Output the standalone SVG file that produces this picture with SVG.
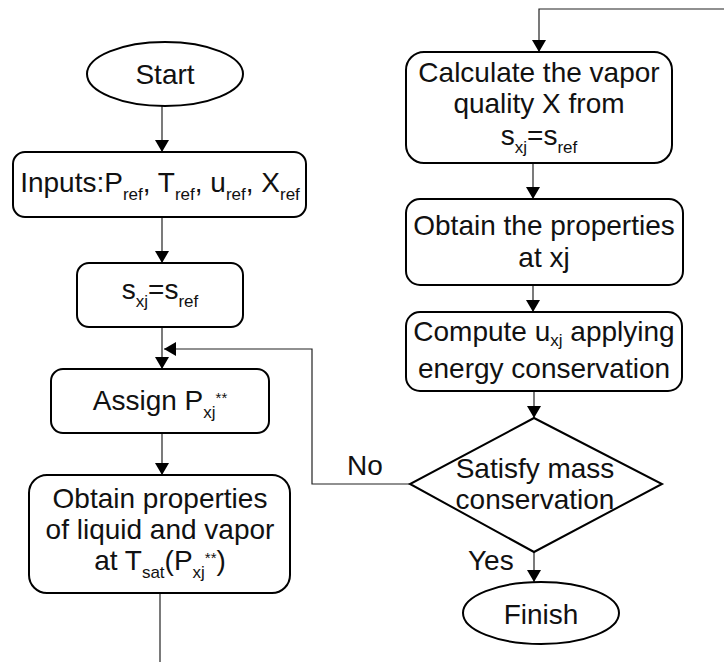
<svg xmlns="http://www.w3.org/2000/svg" width="724" height="662" viewBox="0 0 724 662">
  <style>
    .box { fill: #ffffff; stroke: #000000; stroke-width: 2; }
    .link { fill: none; stroke: #222222; stroke-width: 1.2; }
    .t { font-family: "Liberation Sans", Arial, sans-serif; font-size: 28px; fill: #111111; text-anchor: middle; }
    .lbl { font-family: "Liberation Sans", Arial, sans-serif; font-size: 28px; fill: #111111; }
    .sub { font-size: 17px; }
    .sup { font-size: 15px; }
  </style>
  <defs>
    <marker id="arrow" markerUnits="userSpaceOnUse" markerWidth="14" markerHeight="14" refX="12" refY="7" orient="auto">
      <path d="M0,0 L12,7 L0,14 Z" fill="#000000"/>
    </marker>
  </defs>

  <!-- connectors -->
  <g id="connectors">
    <path class="link" d="M162,106 V152" marker-end="url(#arrow)"/>
    <path class="link" d="M162,217 V263" marker-end="url(#arrow)"/>
    <path class="link" d="M162,327 V369" marker-end="url(#arrow)"/>
    <path class="link" d="M162,433 V475" marker-end="url(#arrow)"/>
    <path class="link" d="M160,593 V662"/>
    <path class="link" d="M724,9 H539 V52" marker-end="url(#arrow)"/>
    <path class="link" d="M533,163 V199" marker-end="url(#arrow)"/>
    <path class="link" d="M533,285 V312" marker-end="url(#arrow)"/>
    <path class="link" d="M534,391 V418" marker-end="url(#arrow)"/>
    <path class="link" d="M534,552 V582" marker-end="url(#arrow)"/>
    <path class="link" d="M410,484 H312 V349 H164" marker-end="url(#arrow)"/>
    <text class="lbl" x="347" y="475">No</text>
    <text class="lbl" x="468" y="570">Yes</text>
  </g>

  <g id="start">
    <ellipse class="box" cx="165" cy="74" rx="78" ry="32"/>
    <text class="t" x="165" y="84">Start</text>
  </g>

  <g id="inputs">
    <rect class="box" x="13" y="152" width="293" height="65" rx="12"/>
    <text class="t" x="160" y="192">Inputs:P<tspan class="sub" dy="8">ref</tspan><tspan dy="-8">, T</tspan><tspan class="sub" dy="8">ref</tspan><tspan dy="-8">, u</tspan><tspan class="sub" dy="8">ref</tspan><tspan dy="-8">, X</tspan><tspan class="sub" dy="8">ref</tspan></text>
  </g>

  <g id="entropy">
    <rect class="box" x="77" y="263" width="166" height="64" rx="12"/>
    <text class="t" x="160" y="299">s<tspan class="sub" dy="8">xj</tspan><tspan dy="-8">=s</tspan><tspan class="sub" dy="8">ref</tspan></text>
  </g>

  <g id="assign">
    <rect class="box" x="51" y="369" width="218" height="64" rx="12"/>
    <text class="t" x="160" y="410">Assign P<tspan class="sub" dy="8">xj</tspan><tspan class="sup" dy="-15">**</tspan></text>
  </g>

  <g id="saturation">
    <rect class="box" x="29" y="475" width="261" height="118" rx="18"/>
    <text class="t" x="160" y="508">Obtain properties</text>
    <text class="t" x="160" y="539">of liquid and vapor</text>
    <text class="t" x="160" y="570">at T<tspan class="sub" dy="8">sat</tspan><tspan dy="-8">(P</tspan><tspan class="sub" dy="8">xj</tspan><tspan class="sup" dy="-15">**</tspan><tspan dy="7">)</tspan></text>
  </g>

  <g id="quality">
    <rect class="box" x="406" y="52" width="266" height="111" rx="18"/>
    <text class="t" x="539" y="82">Calculate the vapor</text>
    <text class="t" x="539" y="113">quality X from</text>
    <text class="t" x="539" y="145">s<tspan class="sub" dy="8">xj</tspan><tspan dy="-8">=s</tspan><tspan class="sub" dy="8">ref</tspan></text>
  </g>

  <g id="properties">
    <rect class="box" x="406" y="199" width="277" height="86" rx="14"/>
    <text class="t" x="544" y="235">Obtain the properties</text>
    <text class="t" x="544" y="267">at xj</text>
  </g>

  <g id="energy">
    <rect class="box" x="406" y="312" width="276" height="79" rx="14"/>
    <text class="t" x="544" y="341">Compute u<tspan class="sub" dy="5">xj</tspan><tspan dy="-5"> applying</tspan></text>
    <text class="t" x="544" y="378">energy conservation</text>
  </g>

  <g id="mass">
    <polygon class="box" points="534,418 662,484 534,552 410,484"/>
    <text class="t" x="535" y="478">Satisfy mass</text>
    <text class="t" x="535" y="509">conservation</text>
  </g>

  <g id="finish">
    <ellipse class="box" cx="541" cy="613" rx="78" ry="31"/>
    <text class="t" x="541" y="624">Finish</text>
  </g>
</svg>
